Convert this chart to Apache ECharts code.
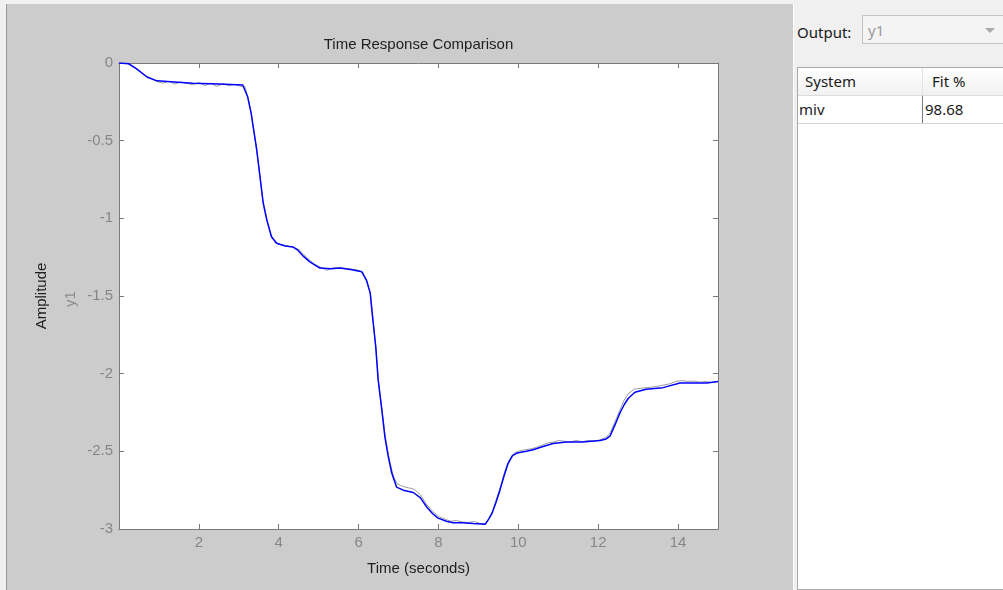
<!DOCTYPE html>
<html>
<head>
<meta charset="utf-8">
<script src="https://cdn.jsdelivr.net/npm/echarts@6/dist/echarts.min.js"></script>
<style>
  body { margin: 0; background: #f0f0f0; width: 1003px; height: 590px; overflow: hidden; position: relative; font-family: "Noto Sans", sans-serif; }
  #left-panel { position: absolute; left: 6px; top: 4px; width: 786px; height: 586px; border-left: 1px solid #9a9a9a; background: #cccccc; }
  #time-chart { width: 786px; height: 586px; }
  #right-panel { position: absolute; left: 793px; top: 4px; width: 210px; height: 586px; border-left: 1px solid #ffffff; background: #f0f0f0; }
  .lbl { position: absolute; font-size: 15px; color: #1a1a1a; white-space: nowrap; }
  #output-lbl { left: 797px; top: 17px; line-height: 30px; }
  #output-box { position: absolute; left: 862px; top: 15px; width: 160px; height: 29px; border: 1px solid #c4c4c4; background: #f4f4f4; box-sizing: border-box; }
  #output-box span { position: absolute; left: 5px; top: 0; line-height: 28px; font-size: 15px; color: #9a9a9a; }
  #output-box i { position: absolute; left: 122px; top: 12px; width: 0; height: 0; border-left: 5px solid transparent; border-right: 5px solid transparent; border-top: 5px solid #a8a8a8; }
  #fit-table { position: absolute; left: 797px; top: 67px; width: 210px; height: 523px; border: 1px solid #a9a9a9; background: #fff; box-sizing: border-box; }
  #fit-head { position: absolute; left: 0; top: 0; width: 100%; height: 28px; background: linear-gradient(#ffffff, #f1f1f1); border-bottom: 1px solid #dcdcdc; box-sizing: border-box; }
  #fit-row { position: absolute; left: 0; top: 28px; width: 100%; height: 28px; border-bottom: 1px solid #d6d6d6; box-sizing: border-box; }
  .cell { position: absolute; top: 0; line-height: 27px; font-size: 15px; color: #1a1a1a; }
  .div-line { position: absolute; left: 124px; top: 0; width: 1px; height: 100%; }
</style>
</head>
<body>
<div id="left-panel"><div id="time-chart"></div></div>
<div id="right-panel"></div>
<div class="lbl" id="output-lbl">Output:</div>
<div id="output-box"><span>y1</span><i></i></div>
<div id="fit-table">
  <div id="fit-head">
    <div class="cell" style="left:7px">System</div>
    <div class="div-line" style="background:#e2e2e2"></div>
    <div class="cell" style="left:134px">Fit %</div>
  </div>
  <div id="fit-row">
    <div class="cell" style="left:1px">miv</div>
    <div class="div-line" style="background:#7a7a7a"></div>
    <div class="cell" style="left:127px">98.68</div>
  </div>
</div>
<script>
// simulated model output (blue)
const modelTime = [0, 0.25, 0.45, 0.7, 0.95, 1.3, 1.85, 2.5, 3.1, 3.22, 3.31, 3.36, 3.45, 3.53, 3.61, 3.7, 3.82, 3.95, 4.16, 4.36, 4.48, 4.6, 4.78, 4.9, 5.03, 5.3, 5.53, 5.8, 6.08, 6.2, 6.29, 6.34, 6.43, 6.49, 6.58, 6.66, 6.74, 6.83, 6.95, 7.12, 7.37, 7.55, 7.71, 7.85, 7.99, 8.2, 8.37, 8.6, 8.87, 9.17, 9.25, 9.34, 9.44, 9.54, 9.64, 9.74, 9.85, 9.97, 10.2, 10.37, 10.6, 10.87, 11.2, 11.6, 12.05, 12.2, 12.3, 12.42, 12.55, 12.65, 12.75, 12.92, 13.2, 13.62, 14.05, 14.4, 14.72, 15];
const modelAmp = [0, -0.005, -0.04, -0.09, -0.115, -0.12, -0.13, -0.135, -0.142, -0.217, -0.324, -0.41, -0.56, -0.73, -0.9, -1.01, -1.12, -1.16, -1.178, -1.185, -1.205, -1.24, -1.28, -1.3, -1.32, -1.325, -1.32, -1.33, -1.344, -1.4, -1.48, -1.61, -1.83, -2.04, -2.23, -2.41, -2.53, -2.64, -2.73, -2.75, -2.765, -2.8, -2.86, -2.9, -2.93, -2.95, -2.96, -2.96, -2.965, -2.97, -2.94, -2.9, -2.83, -2.75, -2.66, -2.58, -2.53, -2.51, -2.5, -2.49, -2.47, -2.45, -2.44, -2.44, -2.43, -2.42, -2.4, -2.33, -2.25, -2.2, -2.16, -2.12, -2.1, -2.09, -2.06, -2.06, -2.06, -2.05];

// measured data (gray)
const measTime = [0, 0.2, 0.4, 0.6, 0.8, 0.95, 1.1, 1.25, 1.4, 1.55, 1.7, 1.85, 2.0, 2.15, 2.3, 2.45, 2.6, 2.75, 2.9, 3.05, 3.15, 3.22, 3.31, 3.4, 3.5, 3.6, 3.7, 3.8, 3.92, 4.05, 4.2, 4.35, 4.5, 4.6, 4.75, 4.9, 5.05, 5.2, 5.35, 5.55, 5.75, 5.95, 6.1, 6.2, 6.3, 6.36, 6.43, 6.5, 6.58, 6.66, 6.76, 6.87, 6.97, 7.1, 7.25, 7.4, 7.55, 7.7, 7.85, 8.0, 8.15, 8.3, 8.45, 8.6, 8.75, 8.9, 9.05, 9.17, 9.27, 9.36, 9.46, 9.56, 9.66, 9.76, 9.88, 10.0, 10.15, 10.3, 10.45, 10.6, 10.75, 10.9, 11.0, 11.15, 11.3, 11.45, 11.6, 11.75, 11.9, 12.05, 12.2, 12.3, 12.42, 12.55, 12.65, 12.75, 12.9, 13.05, 13.2, 13.4, 13.6, 13.8, 13.95, 14.1, 14.25, 14.4, 14.55, 14.7, 14.85, 15];
const measAmp = [0, -0.002, -0.03, -0.07, -0.1, -0.12, -0.13, -0.118, -0.135, -0.122, -0.132, -0.14, -0.125, -0.145, -0.13, -0.15, -0.133, -0.146, -0.138, -0.15, -0.152, -0.21, -0.32, -0.48, -0.67, -0.88, -1.0, -1.1, -1.16, -1.17, -1.175, -1.185, -1.2, -1.225, -1.265, -1.295, -1.315, -1.335, -1.32, -1.318, -1.325, -1.33, -1.345, -1.405, -1.49, -1.65, -1.82, -2.06, -2.22, -2.39, -2.54, -2.66, -2.71, -2.725, -2.735, -2.745, -2.78, -2.84, -2.885, -2.92, -2.935, -2.95, -2.945, -2.955, -2.958, -2.952, -2.965, -2.965, -2.93, -2.88, -2.8, -2.72, -2.63, -2.56, -2.515, -2.5, -2.49, -2.485, -2.475, -2.46, -2.445, -2.44, -2.43, -2.435, -2.44, -2.43, -2.438, -2.43, -2.435, -2.425, -2.41, -2.38, -2.31, -2.23, -2.17, -2.13, -2.1, -2.095, -2.09, -2.085, -2.075, -2.065, -2.05, -2.045, -2.05, -2.048, -2.055, -2.05, -2.058, -2.05];

const xTicks = { min: 0, max: 15, interval: 2 };
const yTicks = { min: -3, max: 0, interval: 0.5 };

const axisColor = '#7a7a7a';
const labelColor = '#868686';
const fontFamily = '"Liberation Sans", Arial, sans-serif';

function pairs(xs, ys) {
  return xs.map((x, i) => [x, ys[i]]);
}

function boxAxis(extra) {
  return Object.assign({
    type: 'value',
    axisLine: { show: true, onZero: false, lineStyle: { color: axisColor, width: 1 } },
    axisTick: { show: true, inside: true, length: 5, lineStyle: { color: axisColor } },
    splitLine: { show: false },
    axisLabel: { show: false }
  }, extra);
}

const labelStyle = { show: true, color: labelColor, fontSize: 15, fontFamily: fontFamily, margin: 6 };

const chart = echarts.init(document.getElementById('time-chart'), null, { renderer: 'canvas' });
chart.setOption({
  animation: false,
  grid: { left: 112, top: 59, right: 75, bottom: 61, show: true, backgroundColor: '#ffffff', borderWidth: 0 },
  xAxis: [
    boxAxis(Object.assign({}, xTicks, {
      position: 'bottom',
      axisLabel: Object.assign({}, labelStyle, {
        showMaxLabel: false,
        formatter: v => (v === 0 || v % 2 !== 0) ? '' : String(v)
      }),
      name: 'Time (seconds)',
      nameLocation: 'middle',
      nameGap: 32,
      nameTextStyle: { color: '#1e1e1e', fontSize: 15, fontFamily: fontFamily }
    })),
    boxAxis(Object.assign({}, xTicks, { position: 'top' }))
  ],
  yAxis: [
    boxAxis(Object.assign({}, yTicks, {
      position: 'left',
      axisLabel: labelStyle,
      name: 'Amplitude',
      nameLocation: 'middle',
      nameGap: 70,
      nameTextStyle: { color: '#1e1e1e', fontSize: 15, fontFamily: fontFamily }
    })),
    boxAxis(Object.assign({}, yTicks, { position: 'right' }))
  ],
  graphic: [
    {
      type: 'text', x: 411.5, y: 41,
      style: { text: 'Time Response Comparison', fill: '#1e1e1e', font: '15px ' + fontFamily, textAlign: 'center', textVerticalAlign: 'middle' }
    },
    {
      type: 'text', x: 64, y: 295, rotation: Math.PI / 2,
      style: { text: 'y1', fill: '#8c8c8c', font: '15px ' + fontFamily, textAlign: 'center', textVerticalAlign: 'middle' }
    }
  ],
  series: [
    {
      name: 'measured', type: 'line', xAxisIndex: 0, yAxisIndex: 0,
      data: pairs(measTime, measAmp),
      showSymbol: false, lineStyle: { color: '#9c9c9c', width: 1 }, z: 2
    },
    {
      name: 'miv', type: 'line', xAxisIndex: 0, yAxisIndex: 0,
      data: pairs(modelTime, modelAmp),
      showSymbol: false, lineStyle: { color: '#0000ff', width: 1.5 }, z: 3
    }
  ]
});
</script>
</body>
</html>
